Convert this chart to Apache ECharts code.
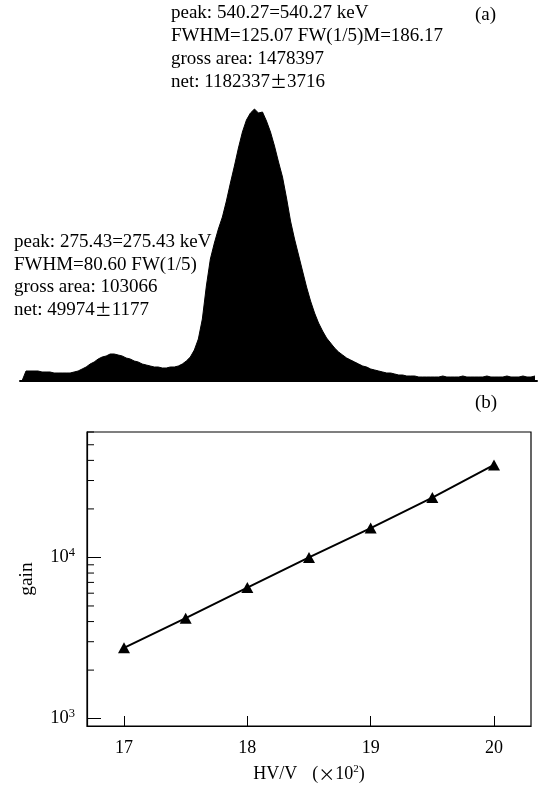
<!DOCTYPE html>
<html><head><meta charset="utf-8">
<script src="https://cdn.jsdelivr.net/npm/echarts@6/dist/echarts.min.js"></script>
<style>html,body{margin:0;padding:0;background:#fff}#c{width:540px;height:790px}</style>
</head><body><div id="c"></div>
<script>
// (a) spectrum: counts per channel (arbitrary units)
const spectrumCounts = [
  0,10,10,10,10,9,9,9,8,8,8,8,8,9,10,12,14,17,19,22,
  24,25,27,27,26,25,23,22,20,19,17,16,15,14,14,13,13,14,14,15,
  17,20,24,31,42,62,95,122,138,152,164,180,198,215,233,249,261,268,272,268,
  269,260,249,235,219,204,183,160,142,126,110,94,80,68,58,50,43,38,33,29,
  26,23,21,19,17,15,14,12,11,10,9,8,8,7,6,6,5,5,5,4,
  4,4,4,4,4,5,4,4,4,4,5,4,4,4,4,4,5,4,4,4,
  4,5,4,4,4,5,4,4,5
];
// (b) gain vs HV
const hvValues = [17, 17.5, 18, 18.5, 19, 19.5, 20];
const gainValues = [2750, 4200, 6500, 10000, 15200, 23500, 37500];
const hvTicks = [17, 18, 19, 20];
const gainMinorTicks = [2000,3000,4000,5000,6000,7000,8000,9000,20000,30000,40000,50000,60000];
const hvMin = 16.7, hvMax = 20.3, gainMin = 900, gainMax = 60000;

const serif = 'Liberation Serif';
const cjk = 'Noto Sans CJK SC';

const specData = spectrumCounts.map((v, i) => [i + 0.5, v]);

const chart = echarts.init(document.getElementById('c'), null, {renderer: 'canvas'});
const annoStyle = {fontFamily: serif, fontSize: 19, fill: '#000', lineHeight: 23};
const annoRich = {pm: {fontFamily: cjk, fontSize: 17, fill: '#000', lineHeight: 23}};

chart.setOption({
  animation: false,
  backgroundColor: '#fff',
  grid: [
    {left: 20, right: 3, top: 101, bottom: 409},
    {left: 87, right: 9, top: 432, bottom: 64, show: true, borderColor: '#000', borderWidth: 1.2}
  ],
  xAxis: [
    {gridIndex: 0, type: 'value', min: 0, max: spectrumCounts.length,
     axisLine: {show: true, lineStyle: {color: '#000', width: 2}},
     axisTick: {show: false}, axisLabel: {show: false}, splitLine: {show: false}},
    {gridIndex: 1, type: 'value', min: hvMin, max: hvMax,
     axisLine: {show: true, onZero: false, lineStyle: {color: '#000', width: 1.2}},
     axisTick: {show: true, inside: true, length: 10, customValues: hvTicks, lineStyle: {color: '#000', width: 1}},
     axisLabel: {customValues: hvTicks, fontFamily: serif, fontSize: 18, color: '#000', margin: 13},
     splitLine: {show: false},
     name: '{t|HV/V}{sp|\u3000}{t|(}{x|×}{t|10}{s|2}{t|)}',
     nameLocation: 'middle', nameGap: 38,
     nameTextStyle: {rich: {
       t: {fontFamily: serif, fontSize: 18, color: '#000'},
       sp: {fontFamily: cjk, fontSize: 15, color: '#000'},
       x: {fontFamily: cjk, fontSize: 17, color: '#000'},
       s: {fontFamily: serif, fontSize: 11, color: '#000', padding: [0, 0, 10, 0]}
     }}}
  ],
  yAxis: [
    {gridIndex: 0, type: 'value', min: 0, max: 280, show: false},
    {gridIndex: 1, type: 'log', logBase: 10, min: gainMin, max: gainMax,
     axisLine: {show: true, onZero: false, lineStyle: {color: '#000', width: 1.2}},
     axisTick: {show: true, inside: true, length: 14, lineStyle: {color: '#000', width: 1}},
     minorTick: {show: false},
     splitLine: {show: false},
     axisLabel: {
       showMinLabel: false, showMaxLabel: false, margin: 12,
       formatter: function (v) {
         const e = Math.log10(v);
         if (Math.abs(e - Math.round(e)) > 1e-6) return '';
         return '{b|10}{s|' + Math.round(e) + '}';
       },
       rich: {
         b: {fontFamily: serif, fontSize: 18.5, color: '#000'},
         s: {fontFamily: serif, fontSize: 12.5, color: '#000', padding: [0, 0, 10, 0]}
       }
     },
     name: 'gain', nameLocation: 'middle', nameGap: 50, nameRotate: 90,
     nameTextStyle: {fontFamily: serif, fontSize: 19.5, color: '#000'}}
  ],
  series: [
    {type: 'line', xAxisIndex: 0, yAxisIndex: 0, data: specData,
     symbol: 'none', lineStyle: {color: '#000', width: 1},
     areaStyle: {color: '#000', opacity: 1}, silent: true},
    {type: 'custom', xAxisIndex: 1, yAxisIndex: 1, clip: false, silent: true,
     data: gainMinorTicks.map(v => [hvMin, v]),
     renderItem: function (params, api) {
       const p = api.coord([api.value(0), api.value(1)]);
       return {type: 'line', shape: {x1: p[0], y1: p[1], x2: p[0] + 7, y2: p[1]},
               style: {stroke: '#000', lineWidth: 1}};
     }},
    {type: 'line', xAxisIndex: 1, yAxisIndex: 1,
     data: hvValues.map((x, i) => [x, gainValues[i]]),
     symbol: 'triangle', symbolSize: [12, 11],
     lineStyle: {color: '#000', width: 2}, itemStyle: {color: '#000'}, silent: true}
  ],
  graphic: [
    {type: 'text', left: 171, top: 1.5, style: Object.assign({}, annoStyle, {
      text: 'peak: 540.27=540.27 keV\nFWHM=125.07 FW(1/5)M=186.17\ngross area: 1478397\nnet: 1182337{pm|±}3716',
      rich: annoRich})},
    {type: 'text', left: 14, top: 231, style: Object.assign({}, annoStyle, {
      lineHeight: 22.5,
      text: 'peak: 275.43=275.43 keV\nFWHM=80.60 FW(1/5)\ngross area: 103066\nnet: 49974{pm|±}1177',
      rich: annoRich})},
    {type: 'text', left: 475, top: 6, style: {text: '(a)', fontFamily: serif, fontSize: 19, fill: '#000'}},
    {type: 'text', left: 475, top: 394, style: {text: '(b)', fontFamily: serif, fontSize: 19, fill: '#000'}}
  ]
});
</script></body></html>
